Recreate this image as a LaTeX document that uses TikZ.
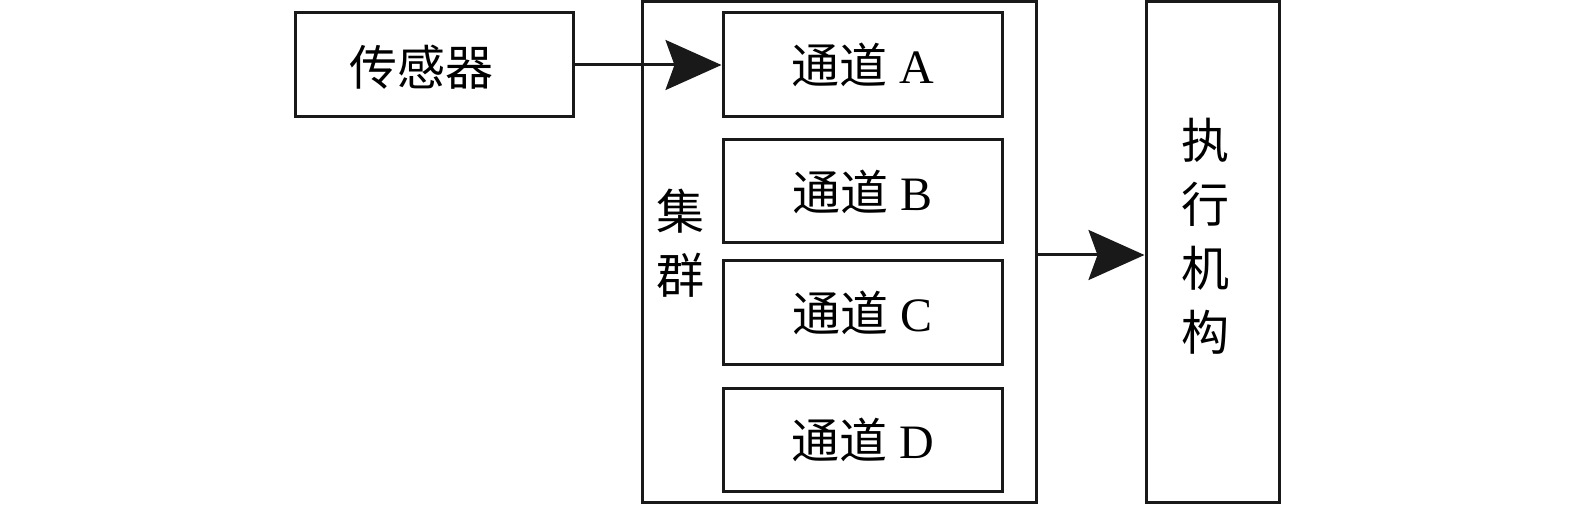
\documentclass[tikz,border=0pt]{standalone}
\usepackage{fontspec}
\setmainfont{Liberation Serif}
\newfontfamily\cjk{Noto Sans CJK SC}
\usetikzlibrary{arrows.meta}
\begin{document}
\begin{tikzpicture}[x=1pt,y=-1pt,
  box/.style={draw=black!90, line width=3pt, inner sep=0pt, fill=none, font=\fontsize{48}{64}\selectfont},
  lbl/.style={inner sep=0pt, font=\fontsize{48}{64}\selectfont, align=center},
  conn/.style={line width=3pt, draw=black!90, -{Stealth[length=56pt,width=50pt,inset=9pt]}}]
\useasboundingbox (0,0) rectangle (1575,505);
\node[box, minimum width=278pt, minimum height=104pt] (sensor) at (434,65) {};
\node[lbl] (sensortxt) at (421,67) {\cjk 传感器};
\node[box, minimum width=394pt, minimum height=500pt] (cluster) at (839,252) {};
\node[lbl] (clustertxt) at (680,243) {\cjk 集\\\cjk 群};
\node[box, minimum width=279pt, minimum height=104pt] (chA) at (862.5,65) {{\cjk 通道} A};
\node[box, minimum width=279pt, minimum height=103pt] (chB) at (862.5,191.5) {{\cjk 通道} B};
\node[box, minimum width=279pt, minimum height=103pt] (chC) at (862.5,312.5) {{\cjk 通道} C};
\node[box, minimum width=279pt, minimum height=103pt] (chD) at (862.5,439.5) {{\cjk 通道} D};
\node[box, minimum width=133pt, minimum height=500pt] (act) at (1212.5,252) {};
\node[lbl] (acttxt) at (1205,236) {\cjk 执\\\cjk 行\\\cjk 机\\\cjk 构};
\draw[conn] (sensor.east) -- (chA.west);
\draw[conn] ([yshift=-3pt]cluster.east) -- ([yshift=-3pt]act.west);
\end{tikzpicture}
\end{document}
